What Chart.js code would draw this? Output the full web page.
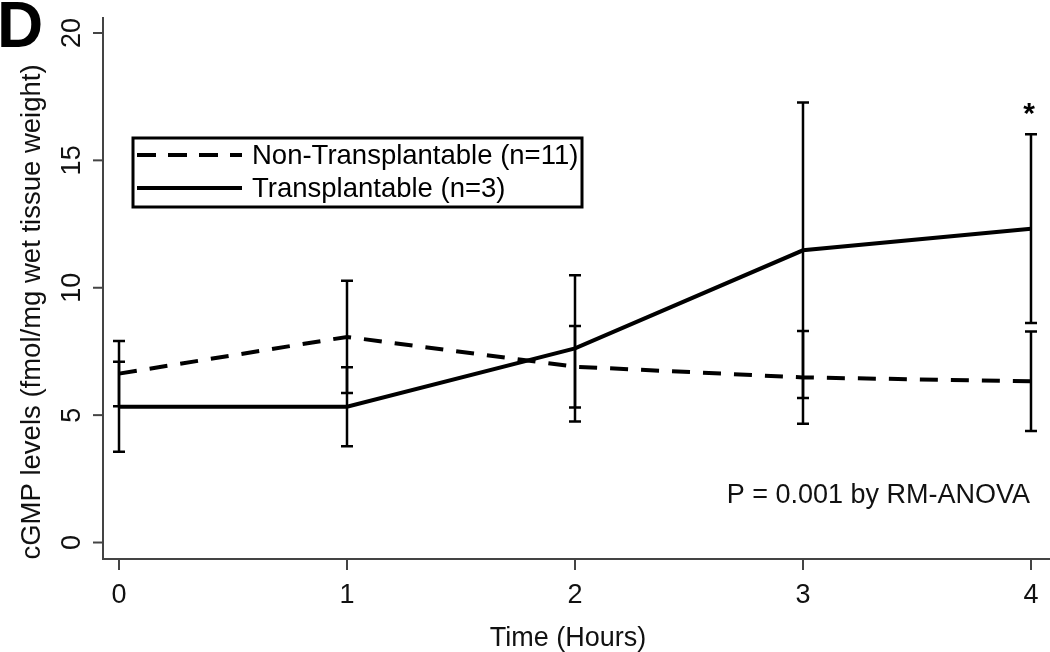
<!DOCTYPE html>
<html>
<head>
<meta charset="utf-8">
<script src="https://cdn.jsdelivr.net/npm/chart.js@4"></script>
<style>
  html, body { margin: 0; padding: 0; background: #fff; }
  canvas { display: block; }
</style>
</head>
<body>
<canvas id="cgmpChart" width="1050" height="652"></canvas>
<script>
const hours = [0, 1, 2, 3, 4];
const nonTransMean = [6.63, 8.07, 6.90, 6.48, 6.33];
const nonTransSD = [1.28, 2.20, 1.60, 1.82, 1.95];
const transMean = [5.33, 5.33, 7.62, 11.47, 12.32];
const transSD = [1.77, 1.55, 2.87, 5.80, 3.70];
const xTicks = [0, 1, 2, 3, 4];
const yTicks = [0, 5, 10, 15, 20];
const seriesNames = ['Non-Transplantable (n=11)', 'Transplantable (n=3)'];

const FONT = '"Liberation Sans", Arial, sans-serif';
const DASH = [19, 12];

// error bars (mean +/- SD) for both groups
const errorBars = {
  id: 'errorBars',
  afterDatasetsDraw(chart) {
    const { ctx } = chart;
    const xs = chart.scales.x, ys = chart.scales.y;
    const groups = [[nonTransMean, nonTransSD], [transMean, transSD]];
    ctx.save();
    ctx.strokeStyle = '#000';
    ctx.lineWidth = 2.5;
    groups.forEach(([m, sd]) => {
      hours.forEach((h, i) => {
        const px = xs.getPixelForValue(h);
        const top = ys.getPixelForValue(m[i] + sd[i]);
        const bot = ys.getPixelForValue(m[i] - sd[i]);
        ctx.beginPath();
        ctx.moveTo(px, top); ctx.lineTo(px, bot);
        ctx.moveTo(px - 6, top); ctx.lineTo(px + 6, top);
        ctx.moveTo(px - 6, bot); ctx.lineTo(px + 6, bot);
        ctx.stroke();
      });
    });
    // significance star over last time point
    const last = hours.length - 1;
    ctx.fillStyle = '#000';
    ctx.font = 'bold 30px ' + FONT;
    ctx.textAlign = 'center';
    ctx.textBaseline = 'alphabetic';
    ctx.fillText('*', xs.getPixelForValue(hours[last]) - 2,
      ys.getPixelForValue(transMean[last] + transSD[last]) - 11);
    ctx.restore();
  }
};

// R-style axes, legend box and text
const decorations = {
  id: 'decorations',
  afterDraw(chart) {
    const { ctx, chartArea: a } = chart;
    const xs = chart.scales.x, ys = chart.scales.y;
    ctx.save();
    ctx.strokeStyle = '#444';
    ctx.lineWidth = 2;
    ctx.beginPath();
    ctx.moveTo(a.left, a.top);
    ctx.lineTo(a.left, a.bottom);
    ctx.lineTo(a.right + 1, a.bottom);
    ctx.stroke();

    ctx.fillStyle = '#111';
    ctx.font = '27px ' + FONT;
    ctx.textAlign = 'center';
    ctx.textBaseline = 'alphabetic';
    xTicks.forEach(t => {
      const px = xs.getPixelForValue(t);
      ctx.beginPath();
      ctx.moveTo(px, a.bottom); ctx.lineTo(px, a.bottom + 11);
      ctx.stroke();
      ctx.fillText(String(t), px, 603);
    });
    yTicks.forEach(t => {
      const py = ys.getPixelForValue(t);
      ctx.beginPath();
      ctx.moveTo(a.left - 10, py); ctx.lineTo(a.left, py);
      ctx.stroke();
      ctx.save();
      ctx.translate(80, py);
      ctx.rotate(-Math.PI / 2);
      ctx.fillText(String(t), 0, 0);
      ctx.restore();
    });

    // axis titles
    ctx.fillText('Time (Hours)', 568, 646);
    ctx.save();
    ctx.translate(40, 312);
    ctx.rotate(-Math.PI / 2);
    ctx.font = '27.5px ' + FONT;
    ctx.fillText('cGMP levels (fmol/mg wet tissue weight)', 0, 0);
    ctx.restore();

    // annotation
    ctx.textAlign = 'right';
    ctx.fillText('P = 0.001 by RM-ANOVA', 1030, 503);

    // panel letter
    ctx.textAlign = 'left';
    ctx.fillStyle = '#000';
    ctx.font = 'bold 64px ' + FONT;
    ctx.fillText('D', -3, 47);

    // legend box
    ctx.strokeStyle = '#000';
    ctx.lineWidth = 3;
    ctx.strokeRect(133, 138, 449, 69);
    const rows = [{ y: 155, dash: DASH }, { y: 188, dash: [] }];
    ctx.font = '27.5px ' + FONT;
    ctx.textBaseline = 'middle';
    rows.forEach((r, i) => {
      ctx.lineWidth = 4;
      ctx.setLineDash(r.dash);
      ctx.beginPath();
      ctx.moveTo(137, r.y); ctx.lineTo(242, r.y);
      ctx.stroke();
      ctx.setLineDash([]);
      ctx.fillText(seriesNames[i], 252, r.y + 1);
    });
    ctx.restore();
  }
};

new Chart(document.getElementById('cgmpChart'), {
  type: 'line',
  data: {
    datasets: [
      {
        label: seriesNames[0],
        data: hours.map((h, i) => ({ x: h, y: nonTransMean[i] })),
        borderColor: '#000',
        borderWidth: 4,
        borderDash: [18, 13],
        pointRadius: 0,
        tension: 0,
        fill: false
      },
      {
        label: seriesNames[1],
        data: hours.map((h, i) => ({ x: h, y: transMean[i] })),
        borderColor: '#000',
        borderWidth: 4,
        pointRadius: 0,
        tension: 0,
        fill: false
      }
    ]
  },
  options: {
    responsive: false,
    devicePixelRatio: 1,
    animation: false,
    layout: { padding: { left: 103, top: 17, right: 1, bottom: 93 } },
    scales: {
      x: { type: 'linear', display: false, min: -0.0702, max: 4.079 },
      y: { type: 'linear', display: false, min: -0.647, max: 20.627 }
    },
    plugins: {
      legend: { display: false },
      tooltip: { enabled: false }
    }
  },
  plugins: [errorBars, decorations]
});
</script>
</body>
</html>
